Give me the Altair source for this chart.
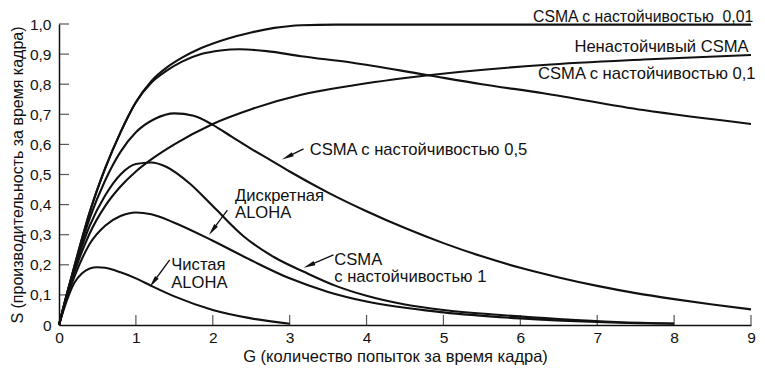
import math
import altair as alt
import pandas as pd

# ---------------- data ----------------
# Pure ALOHA
G_PURE = [0, 0.1, 0.2, 0.3, 0.4, 0.5, 0.6, 0.8, 1.0, 1.2, 1.5, 2.0, 2.5, 3.0]
S_PURE = [0, 0.08, 0.14, 0.172, 0.188, 0.192, 0.19, 0.175, 0.155, 0.13, 0.095, 0.05, 0.022, 0.004]
# Slotted ALOHA
G_SLOT = [0, 0.1, 0.2, 0.4, 0.6, 0.8, 1.0, 1.2, 1.5, 2.0, 2.5, 3.0, 3.5, 4.0, 5.0, 6.0, 7.0, 8.0]
S_SLOT = [0, 0.09, 0.16, 0.27, 0.33, 0.362, 0.374, 0.368, 0.34, 0.28, 0.215, 0.155, 0.11, 0.078, 0.042, 0.022, 0.01, 0.004]
# 1-persistent CSMA
G_P1 = [0, 0.1, 0.2, 0.4, 0.6, 0.8, 1.0, 1.2, 1.4, 1.7, 2.0, 2.4, 2.8, 3.2, 3.6, 4.0, 4.5, 5.0, 5.7, 6.5, 7.25, 8.0]
S_P1 = [0, 0.1, 0.185, 0.33, 0.43, 0.5, 0.535, 0.54, 0.525, 0.47, 0.395, 0.295, 0.225, 0.175, 0.13, 0.097, 0.068, 0.05, 0.034, 0.02, 0.01, 0.005]
# 0.5-persistent CSMA
G_P05 = [0, 0.1, 0.2, 0.4, 0.6, 0.8, 1.0, 1.25, 1.5, 1.75, 2.0, 2.25, 2.5, 2.75, 3.0, 3.5, 4.0, 4.5, 5.0, 5.5, 6.0, 6.5, 7.0, 7.5, 8.0, 8.5, 9.0]
S_P05 = [0, 0.1, 0.19, 0.355, 0.48, 0.575, 0.64, 0.685, 0.703, 0.695, 0.665, 0.625, 0.585, 0.548, 0.51, 0.44, 0.378, 0.322, 0.272, 0.228, 0.19, 0.158, 0.13, 0.106, 0.086, 0.068, 0.052]
# 0.1-persistent CSMA
G_P01 = [0, 0.1, 0.2, 0.4, 0.6, 0.8, 1.0, 1.2, 1.4, 1.6, 1.85, 2.1, 2.35, 2.7, 3.15, 3.8, 4.75, 5.5, 6.3, 7.6, 9.0]
S_P01 = [0, 0.1, 0.195, 0.375, 0.52, 0.64, 0.74, 0.805, 0.845, 0.875, 0.9, 0.912, 0.916, 0.91, 0.893, 0.872, 0.832, 0.8, 0.77, 0.714, 0.668]
# Nonpersistent CSMA
G_NP = [0, 0.1, 0.2, 0.4, 0.6, 0.8, 1.0, 1.2, 1.5, 2.0, 2.5, 3.15, 3.8, 4.75, 6.3, 7.6, 9.0]
S_NP = [0, 0.095, 0.175, 0.305, 0.395, 0.46, 0.51, 0.55, 0.6, 0.668, 0.717, 0.765, 0.795, 0.828, 0.864, 0.882, 0.897]
# 0.01-persistent CSMA
G_P001 = [0, 0.1, 0.2, 0.4, 0.6, 0.8, 1.0, 1.2, 1.4, 1.6, 1.85, 2.2, 2.5, 2.8, 3.15, 3.6, 9.0]
S_P001 = [0, 0.1, 0.195, 0.375, 0.52, 0.64, 0.74, 0.81, 0.855, 0.888, 0.92, 0.952, 0.972, 0.987, 0.996, 0.998, 0.998]

SERIES_NAMES = ["pure", "slot", "p1", "p05", "p01", "np", "p001"]
SERIES_G = [G_PURE, G_SLOT, G_P1, G_P05, G_P01, G_NP, G_P001]
SERIES_S = [S_PURE, S_SLOT, S_P1, S_P05, S_P01, S_NP, S_P001]

X_TICKS = [0, 1, 2, 3, 4, 5, 6, 7, 8, 9]
Y_TICKS = [0, 0.1, 0.2, 0.3, 0.4, 0.5, 0.6, 0.7, 0.8, 0.9, 1.0]

# labels (anchor in data units)
TOP_TEXT = ["CSMA с настойчивостью\u00a0\u00a00,01"]
TOP_G = [9.03]
TOP_S = [1.024]

RLABEL_TEXT = ["Ненастойчивый CSMA", "CSMA с настойчивостью 0,1"]
RLABEL_G = [8.97, 9.06]
RLABEL_S = [0.922, 0.833]

LLABEL_TEXT = ["CSMA с настойчивостью 0,5", "Дискретная", "ALOHA", "CSMA",
               "с настойчивостью 1", "Чистая", "ALOHA"]
LLABEL_G = [3.26, 2.29, 2.29, 3.58, 3.58, 1.46, 1.46]
LLABEL_S = [0.58, 0.43, 0.372, 0.216, 0.158, 0.2, 0.14]

# arrows: tail -> head (data units)
ARROW_G0 = [3.18, 2.19, 3.57, 1.44]
ARROW_S0 = [0.585, 0.382, 0.233, 0.216]
ARROW_G1 = [2.90, 1.95, 3.18, 1.18]
ARROW_S1 = [0.55, 0.299, 0.19, 0.126]

# ---------------- chart ----------------
W, H = 692, 301
PX_G = W / 9.0
PX_S = H / 1.0
FONT = "Liberation Sans"
INK = "#111111"

rows = []
for name, gs, ss in zip(SERIES_NAMES, SERIES_G, SERIES_S):
    for g, s in zip(gs, ss):
        rows.append({"series": name, "G": g, "S": s})
df = pd.DataFrame(rows)

xs = alt.Scale(domain=[0, 9], nice=False, zero=False)
ys = alt.Scale(domain=[0, 1], nice=False, zero=False)
XAX = alt.Axis(values=X_TICKS, title="G (количество попыток за время кадра)", format="d",
               grid=False, ticks=False, domainColor=INK, domainWidth=1.5,
               labelFont=FONT, labelFontSize=15.5, labelColor=INK, labelPadding=5, labelFlush=False,
               titleFont=FONT, titleFontSize=16.5, titleColor=INK, titleFontWeight="normal",
               titlePadding=3, titleX=336)
YAX = alt.Axis(values=Y_TICKS, title="S (производительность за время кадра)",
               labelExpr="datum.value == 0 ? '0' : replace(format(datum.value, '.1f'), '.', ',')",
               grid=False, ticks=False, domainColor=INK, domainWidth=1.5,
               labelFont=FONT, labelFontSize=15.5, labelColor=INK, labelPadding=8,
               titleFont=FONT, titleFontSize=16, titleColor=INK, titleFontWeight="normal",
               titlePadding=4)


def X(f):
    return alt.X(f, type="quantitative", scale=xs, axis=XAX)


def Y(f):
    return alt.Y(f, type="quantitative", scale=ys, axis=YAX)


lines = alt.Chart(df).mark_line(
    color=INK, strokeWidth=2.1, interpolate="monotone"
).encode(x=X("G"), y=Y("S"), detail="series:N", order="G:Q")

xt = alt.Chart(pd.DataFrame({"t": X_TICKS[1:]})).mark_tick(
    color=INK, size=10, thickness=1.2, orient="vertical"
).encode(x=X("t"), y=alt.value(H - 5))

yt = alt.Chart(pd.DataFrame({"t": Y_TICKS[1:]})).mark_tick(
    color=INK, size=10, thickness=1.2, orient="horizontal"
).encode(y=Y("t"), x=alt.value(5))

toplab = alt.Chart(pd.DataFrame({"t": TOP_TEXT, "G": TOP_G, "S": TOP_S})).mark_text(
    align="right", baseline="middle", font=FONT, fontSize=15.8, color=INK
).encode(x=X("G"), y=Y("S"), text="t:N")

rlab = alt.Chart(pd.DataFrame({"t": RLABEL_TEXT, "G": RLABEL_G, "S": RLABEL_S})).mark_text(
    align="right", baseline="middle", font=FONT, fontSize=16.6, color=INK
).encode(x=X("G"), y=Y("S"), text="t:N")

llab = alt.Chart(pd.DataFrame({"t": LLABEL_TEXT, "G": LLABEL_G, "S": LLABEL_S})).mark_text(
    align="left", baseline="middle", font=FONT, fontSize=16.6, color=INK
).encode(x=X("G"), y=Y("S"), text="t:N")

# arrow geometry
HEAD = 12.0
arows = []
for g0, s0, g1, s1 in zip(ARROW_G0, ARROW_S0, ARROW_G1, ARROW_S1):
    dx = (g1 - g0) * PX_G
    dy = -(s1 - s0) * PX_S
    L = math.hypot(dx, dy)
    ux, uy = dx / L, dy / L
    ang = math.degrees(math.atan2(dx, -dy)) % 360
    cg = g1 - ux * HEAD / 2 / PX_G
    cs = s1 + uy * HEAD / 2 / PX_S
    arows.append({"g0": g0, "s0": s0, "g1": cg, "s1": cs, "ang": ang})
adf = pd.DataFrame(arows)

shafts = alt.Chart(adf).mark_rule(color=INK, strokeWidth=1.3).encode(
    x=X("g0"), y=Y("s0"), x2="g1:Q", y2="s1:Q"
)
heads = alt.Chart(adf).mark_point(
    shape="M0,-1L0.38,1L-0.38,1Z", filled=True, color=INK, opacity=1, size=144
).encode(x=X("g1"), y=Y("s1"), angle=alt.Angle("ang:Q", scale=None))

chart = alt.layer(lines, xt, yt, shafts, heads, toplab, rlab, llab).properties(
    width=W, height=H,
    background="white",
    autosize=alt.AutoSizeParams(type="none"),
    padding={"left": 51, "top": 16, "right": 6, "bottom": 41},
).configure_view(stroke=None)

chart.save("out.html", embed_options={"renderer": "svg", "actions": False})
